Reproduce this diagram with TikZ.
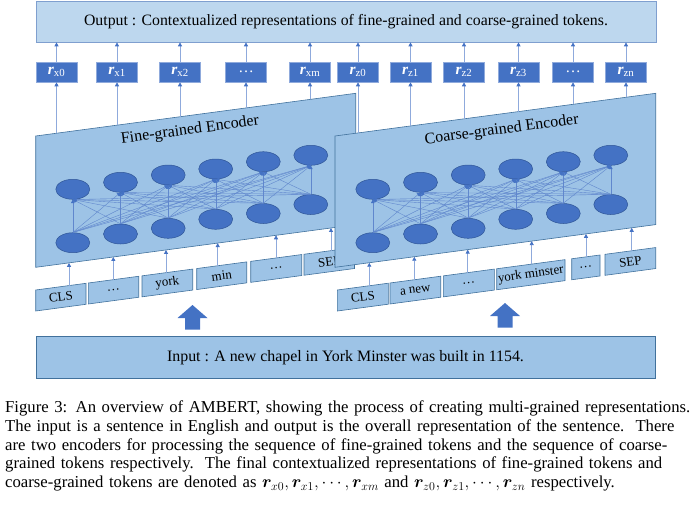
\documentclass[tikz,border=0pt]{standalone}
\usepackage{bm}
\usepackage{fontspec}
\setmainfont{Liberation Serif}
\usetikzlibrary{arrows.meta,shapes.geometric}
\definecolor{outfill}{HTML}{BDD7EE}
\definecolor{outdraw}{HTML}{7F9FCF}
\definecolor{encfill}{HTML}{9DC3E6}
\definecolor{encdraw}{HTML}{41719C}
\definecolor{dark}{HTML}{4472C4}
\definecolor{neurdraw}{HTML}{2F5597}
\definecolor{connc}{HTML}{8FAADC}
\newcommand\rlab[1]{{\bfseries\itshape r}\textsubscript{#1}}
\newcommand\capline[1]{\makebox[683pt][s]{#1}}
\newcommand\tokbox[7]{%
  \pgfmathsetmacro\ya{290-0.1333*(#2-#5)}%
  \pgfmathsetmacro\yb{290-0.1333*(#3-#5)}%
  \pgfmathsetmacro\yc{290-0.1333*(#4-#5)}%
  \pgfmathsetmacro\ye{267.3-0.1333*(#4-#6)}%
  \draw[tokshape] (#2,\ya) -- (#3,\yb) -- (#3,\yb+21) -- (#2,\ya+21) -- cycle;
  \node[toklab] (#1) at ({(#2+#3)/2},{(\ya+\yb)/2+10.5}) {#7};
  \coordinate (#1top) at (#4,\yc);
  \coordinate (#1enc) at (#4,\ye);
  \draw[conn] (#1top) -- (#1enc);
}
\begin{document}
\begin{tikzpicture}[x=1pt,y=-1pt,
  outbox/.style={draw=outdraw,fill=outfill,line width=0.7pt,minimum width=620pt,minimum height=41pt,inner sep=0pt,font=\fontsize{15.8}{18}\selectfont},
  inbox/.style={draw=encdraw,fill=encfill,line width=0.7pt,minimum width=619pt,minimum height=42pt,inner sep=0pt,font=\fontsize{15.9}{18}\selectfont},
  rbox/.style={draw=connc,fill=dark,line width=0.6pt,minimum width=41pt,minimum height=20pt,inner sep=0pt,text=white,font=\fontsize{15.5}{15.5}\selectfont},
  encshape/.style={draw=encdraw,fill=encfill,line width=0.6pt},
  enctitle/.style={rotate=7.6,inner sep=0pt,font=\fontsize{16}{16}\selectfont},
  tokshape/.style={draw=encdraw,fill=encfill,line width=0.6pt},
  toklab/.style={rotate=7.6,inner sep=0pt,font=\fontsize{13}{13}\selectfont},
  neur/.style={ellipse,draw=neurdraw,fill=dark,line width=0.5pt,minimum width=34pt,minimum height=20pt,inner sep=0pt},
  conn/.style={draw=connc,line width=0.8pt,-{Triangle[length=4pt,width=4pt,color=dark]}},
  link/.style={draw=dark!85,line width=0.4pt,-{Triangle[length=3.5pt,width=3.5pt,color=dark]}},
  bigarr/.style={fill=dark}]
\useasboundingbox (0,0) rectangle (693,507);

% output box
\node[outbox] (out) at (346,21.5) {Output : Contextualized representations of fine-grained and coarse-grained tokens.};

% r boxes
\foreach \n/\x/\t in {rx0/56.5/\rlab{x0}, rx1/117/\rlab{x1}, rx2/180/\rlab{x2}, rxd/246/…, rxm/310/\rlab{xm},
                      rz0/358/\rlab{z0}, rz1/410.5/\rlab{z1}, rz2/464/\rlab{z2}, rz3/518.5/\rlab{z3}, rzd/573/…, rzn/626/\rlab{zn}} {
  \node[rbox] (\n) at (\x,72) {\t};
  \draw[conn] (\n.north) -- (\n.north |- out.south);
}

% fine-grained encoder
\draw[encshape] (35.7,136) -- (355.7,93.3) -- (355.7,224.7) -- (35.7,267.3) -- cycle;
\node[enctitle] (ftitle) at (190,130.5) {Fine-grained Encoder};
\foreach \n/\x in {rx0/56.5, rx1/117, rx2/180, rxd/246, rxm/310} {
  \pgfmathsetmacro\yy{136-0.1334*(\x-35.7)}
  \coordinate (e\n) at (\x,\yy);
  \draw[conn] (e\n) -- (\n.south);
}
\foreach \i/\x/\yt/\yb in {1/72.8/189.3/242.7, 2/120.5/182.3/234, 3/168.2/175/228.3, 4/215.7/169/219.3, 5/263.3/161.7/213.5, 6/310.8/155.3/204.5} {
  \node[neur] (ft\i) at (\x,\yt) {};
  \node[neur] (fb\i) at (\x,\yb) {};
}
\foreach \i in {1,...,6} {\foreach \j in {1,...,6} {\draw[link] (fb\i.north) -- (ft\j.south);}}

% fine tokens
\tokbox{fcls}{35.7}{86}{69}{35.7}{35.7}{CLS}
\tokbox{fda}{88.3}{138.7}{113.3}{35.7}{35.7}{…}
\tokbox{fyork}{142}{192.7}{166}{35.7}{35.7}{york}
\tokbox{fmin}{196.7}{246.7}{217.7}{35.7}{35.7}{min}
\tokbox{fdb}{250.7}{301.7}{276}{35.7}{35.7}{…}
\tokbox{fsep}{304}{354.5}{331}{35.7}{35.7}{SEP}

% coarse-grained encoder
\draw[encshape] (335,136) -- (655.7,93.3) -- (655.7,224.6) -- (335,267.3) -- cycle;
\node[enctitle] (ctitle) at (501.7,130) {Coarse-grained Encoder};
\foreach \n/\x in {rz0/358, rz1/410.5, rz2/464, rz3/518.5, rzd/573, rzn/626} {
  \pgfmathsetmacro\yy{136-0.1331*(\x-335)}
  \coordinate (e\n) at (\x,\yy);
  \draw[conn] (e\n) -- (\n.south);
}
\foreach \i/\x/\yt/\yb in {1/72.8/189.3/242.7, 2/120.5/182.3/234, 3/168.2/175/228.3, 4/215.7/169/219.3, 5/263.3/161.7/213.5, 6/310.8/155.3/204.5} {
  \node[neur] (ct\i) at (\x+300,\yt) {};
  \node[neur] (cb\i) at (\x+300,\yb) {};
}
\foreach \i in {1,...,6} {\foreach \j in {1,...,6} {\draw[link] (cb\i.north) -- (ct\j.south);}}

% coarse tokens
\tokbox{ccls}{337.3}{388.3}{369.3}{337.3}{335}{CLS}
\tokbox{cnew}{390}{440.7}{414.3}{337.3}{335}{a new}
\tokbox{cda}{443.3}{494.3}{467.7}{337.3}{335}{…}
\tokbox{cyork}{496.7}{565}{531.7}{337.3}{335}{york minster}
\tokbox{cdb}{571.7}{600}{586}{337.3}{335}{…}
\tokbox{csep}{605}{655.7}{631.7}{337.3}{335}{SEP}

% block arrows
\fill[bigarr] (192.5,305) -- (207.5,318) -- (200,318) -- (200,329.5) -- (185,329.5) -- (185,318) -- (177.5,318) -- cycle;
\fill[bigarr] (505,303) -- (520,316) -- (512.5,316) -- (512.5,327.5) -- (497.5,327.5) -- (497.5,316) -- (490,316) -- cycle;

% input box
\node[inbox] (inp) at (345.5,357.5) {Input : A new chapel in York Minster was built in 1154.};

% caption
\node[anchor=base west,inner sep=0pt,text width=683pt,font=\fontsize{16.7}{18.75}\selectfont] (cap) at (5,412.5) {%
\capline{Figure 3: An overview of AMBERT, showing the process of creating multi-grained representations.}\\
\capline{The input is a sentence in English and output is the overall representation of the sentence.\ \ There}\\
\capline{are two encoders for processing the sequence of fine-grained tokens and the sequence of coarse-}\\
\capline{grained tokens respectively.\ \ The final contextualized representations of fine-grained tokens and}\\
coarse-grained tokens are denoted as $\bm{r}_{x0}, \bm{r}_{x1}, \cdots, \bm{r}_{xm}$ and $\bm{r}_{z0}, \bm{r}_{z1}, \cdots, \bm{r}_{zn}$ respectively.};
\end{tikzpicture}
\end{document}
